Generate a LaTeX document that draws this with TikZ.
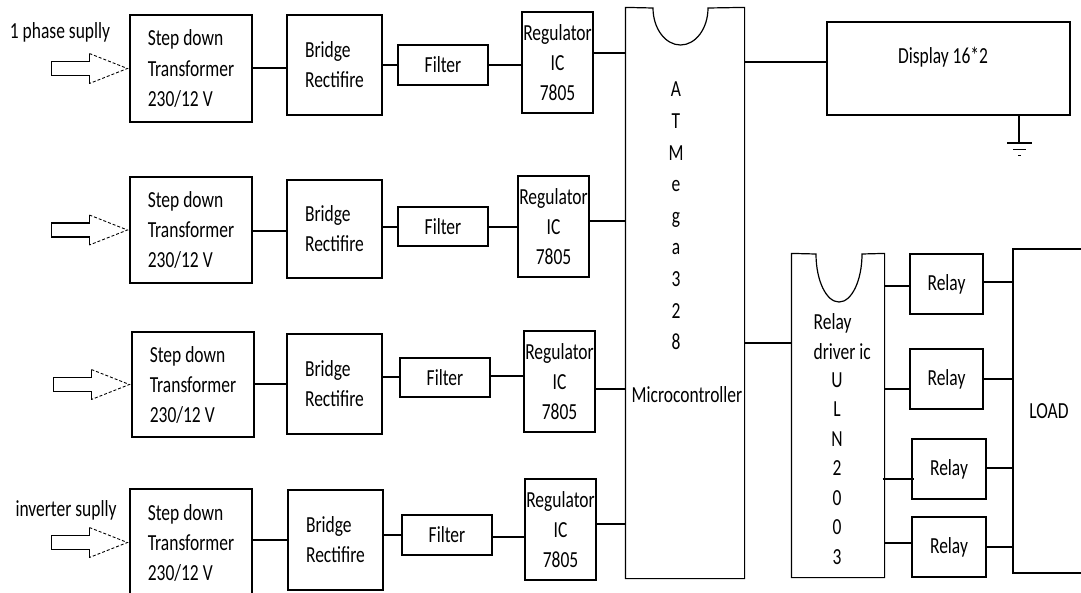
\documentclass[tikz,border=0pt]{standalone}
\usepackage{fontspec}
\setmainfont{Carlito}[FakeStretch=0.76]
\usepackage{tikz}
\tikzset{font=\fontsize{23}{30}\selectfont}
\tikzstyle{blk}=[draw,rectangle,inner sep=0pt]
\tikzstyle{txt}=[inner sep=0pt]
\tikzstyle{head}=[densely dashed,line width=0.9pt]

\begin{document}
\begin{tikzpicture}[x=1pt,y=-1pt,line width=1.2pt]
\useasboundingbox (0,0) rectangle (1081,592);
% supply chains
\node[blk,minimum width=122,minimum height=107,align=left] (T1) at (191,68.5) {Step down\\Transformer\\230/12 V};
\node[blk,minimum width=122,minimum height=106,align=left] (T2) at (191,230) {Step down\\Transformer\\230/12 V};
\node[blk,minimum width=122,minimum height=105,align=left] (T3) at (193,384.5) {Step down\\Transformer\\230/12 V};
\node[blk,minimum width=122,minimum height=107,align=left] (T4) at (191,542.5) {Step down\\Transformer\\230/12 V};
\node[blk,minimum width=95,minimum height=100,align=left] (B1) at (334.5,65) {Bridge\\Rectifire};
\node[blk,minimum width=95,minimum height=98,align=left] (B2) at (334.5,229) {Bridge\\Rectifire};
\node[blk,minimum width=95,minimum height=100,align=left] (B3) at (334.5,384) {Bridge\\Rectifire};
\node[blk,minimum width=95,minimum height=100,align=left] (B4) at (335.5,540) {Bridge\\Rectifire};
\node[blk,minimum width=90,minimum height=40] (F1) at (443,65) {Filter};
\node[blk,minimum width=90,minimum height=39] (F2) at (443,226.5) {Filter};
\node[blk,minimum width=90,minimum height=39] (F3) at (445,377.5) {Filter};
\node[blk,minimum width=90,minimum height=40] (F4) at (447,535) {Filter};
\node[blk,minimum width=71,minimum height=101,align=center] (R1) at (557.5,62.5) {Regulator\\IC\\7805};
\node[blk,minimum width=71,minimum height=101,align=center] (R2) at (553.5,226.5) {Regulator\\IC\\7805};
\node[blk,minimum width=71,minimum height=101,align=center] (R3) at (559.5,381.5) {Regulator\\IC\\7805};
\node[blk,minimum width=71,minimum height=101,align=center] (R4) at (560.5,529.5) {Regulator\\IC\\7805};
\node[txt] (S1) at (60,32) {1 phase suplly};
\node[txt] (S4) at (66,510) {inverter suplly};
% input arrows
\draw[shift={(T1.west)}] (-40,-15) -- (-40,-7) -- (-78,-7) -- (-78,7) -- (-40,7) -- (-40,15);
\draw[shift={(T1.west)},head] (-40,-15) -- (-2,0) -- (-40,15);
\draw[shift={(T2.west)}] (-40,-15) -- (-40,-7) -- (-78,-7) -- (-78,7) -- (-40,7) -- (-40,15);
\draw[shift={(T2.west)},head] (-40,-15) -- (-2,0) -- (-40,15);
\draw[shift={(T3.west)}] (-40,-15) -- (-40,-7) -- (-78,-7) -- (-78,7) -- (-40,7) -- (-40,15);
\draw[shift={(T3.west)},head] (-40,-15) -- (-2,0) -- (-40,15);
\draw[shift={(T4.west)}] (-40,-15) -- (-40,-7) -- (-78,-7) -- (-78,7) -- (-40,7) -- (-40,15);
\draw[shift={(T4.west)},head] (-40,-15) -- (-2,0) -- (-40,15);
% microcontroller
\node[minimum width=118,minimum height=570,inner sep=0pt] (M) at (685,293) {};
\draw (M.north west) -- (653,8) arc[start angle=180,end angle=0,x radius=27.5,y radius=37] -- (M.north east) -- (M.south east) -- (M.south west) -- cycle;
\node[txt,align=center,font=\fontsize{23}{31.6}\selectfont] (MT) at (676,216) {A\\T\\M\\e\\g\\a\\3\\2\\8};
\node[txt] (MC) at (687,395) {Microcontroller};
% display
\node[blk,minimum width=243,minimum height=93] (D) at (948.5,68.5) {};
\node[txt] (DT) at (943,57) {Display 16*2};
\coordinate (G) at (1019,143);
\draw (D.south -| G) -- (G);
\draw (1007,143) -- (1032,143) (1013,149.5) -- (1026,149.5);
\draw[line width=1pt] (1018,155.5) -- (1021,155.5);
% relay driver
\node[minimum width=92,minimum height=323,inner sep=0pt] (DR) at (838,415.5) {};
\draw (DR.north west) -- (816,254) arc[start angle=180,end angle=0,x radius=23,y radius=48] -- (DR.north east) -- (DR.south east) -- (DR.south west) -- cycle;
\node[txt,align=left,anchor=west] (DT1) at (813,337) {Relay\\driver ic};
\node[txt,align=center,font=\fontsize{23}{29.5}\selectfont] (DT2) at (837,468.5) {U\\L\\N\\2\\0\\0\\3};
\node[blk,minimum width=73,minimum height=60] (RL1) at (946.5,284) {Relay};
\node[blk,minimum width=73,minimum height=60] (RL2) at (946.5,379) {Relay};
\node[blk,minimum width=74,minimum height=60] (RL3) at (949,469) {Relay};
\node[blk,minimum width=74,minimum height=60] (RL4) at (949,547) {Relay};
\node[blk,minimum width=72,minimum height=324] (L) at (1049,411) {LOAD};
% connections
\draw (T1.east |- 0,68) -- (B1.west |- 0,68);
\draw (B1.east |- 0,65) -- (F1.west |- 0,65);
\draw (F1.east |- 0,65) -- (R1.west |- 0,65);
\draw (R1.east |- 0,53) -- (M.west |- 0,53);
\draw (T2.east |- 0,231) -- (B2.west |- 0,231);
\draw (B2.east |- 0,227) -- (F2.west |- 0,227);
\draw (F2.east |- 0,227) -- (R2.west |- 0,227);
\draw (R2.east |- 0,221) -- (M.west |- 0,221);
\draw (T3.east |- 0,384) -- (B3.west |- 0,384);
\draw (B3.east |- 0,377) -- (F3.west |- 0,377);
\draw (F3.east |- 0,376) -- (R3.west |- 0,376);
\draw (R3.east |- 0,389) -- (M.west |- 0,389);
\draw (T4.east |- 0,540) -- (B4.west |- 0,540);
\draw (B4.east |- 0,535) -- (F4.west |- 0,535);
\draw (F4.east |- 0,537) -- (R4.west |- 0,537);
\draw (R4.east |- 0,524) -- (M.west |- 0,524);
\draw (M.east |- 0,62) -- (D.west |- 0,62);
\draw (M.east |- 0,343) -- (DR.west |- 0,343);
\draw (DR.east |- 0,286) -- (RL1.west |- 0,286);
\draw (DR.east |- 0,389) -- (RL2.west |- 0,389);
\draw ([xshift=-2pt]DR.east |- 0,479) -- ([xshift=3pt]RL3.west |- 0,479);
\draw (DR.east |- 0,543) -- (RL4.west |- 0,543);
\draw (RL1.east |- 0,282) -- (L.west |- 0,282);
\draw (RL2.east |- 0,379) -- (L.west |- 0,379);
\draw (RL3.east |- 0,468) -- (L.west |- 0,468);
\draw (RL4.east |- 0,547) -- (L.west |- 0,547);
\end{tikzpicture}
\end{document}
